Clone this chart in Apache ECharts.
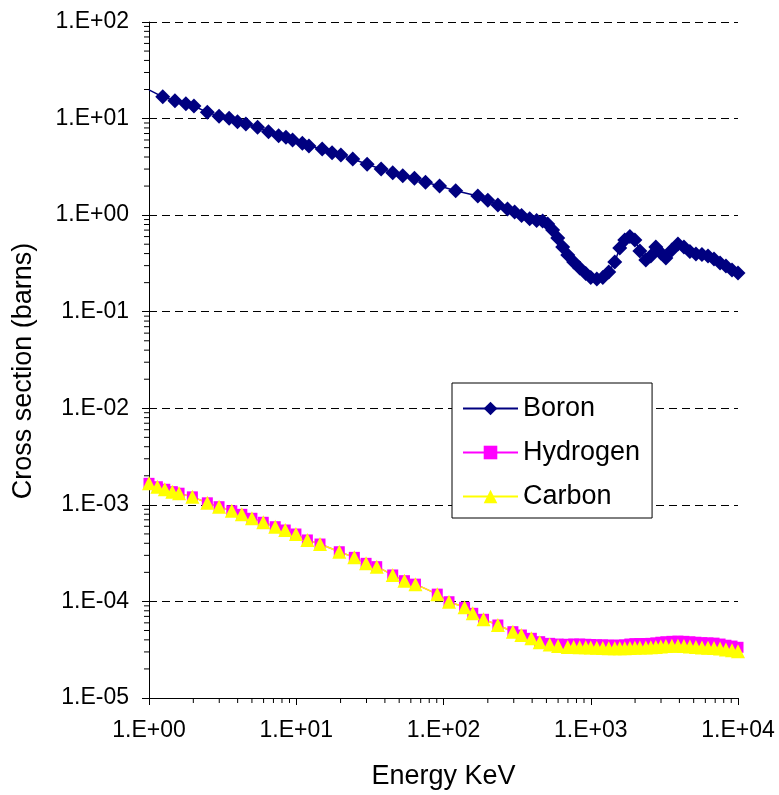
<!doctype html>
<html lang="en">
<head>
    <meta charset="UTF-8">
    <script src="https://cdn.jsdelivr.net/npm/echarts@6/dist/echarts.min.js"></script>
    <title>Cross section</title>
    <style>
        html, body { margin: 0; padding: 0; background: #fff; }
    </style>
</head>
<body>
<div id="main" style="width: 779px;height:795px;"></div>
<script type="text/javascript">
    // tick labels
    var xTickLabels = ['1.E+00', '1.E+01', '1.E+02', '1.E+03', '1.E+04'];
    var yTickLabels = ['1.E-05', '1.E-04', '1.E-03', '1.E-02', '1.E-01', '1.E+00', '1.E+01', '1.E+02'];
    var minorSteps = [2, 3, 4, 5, 6, 7, 8, 9];

    // Boron (energy keV / cross section barns)
    var boronEnergy = [1, 1.24, 1.50, 1.78, 2.02, 2.49, 2.99, 3.50, 3.99, 4.55, 5.46, 6.48, 7.59, 8.51, 9.44,
        11.0, 12.2, 15.0, 17.5, 20.1, 24.2, 30.3, 37.7, 45.2, 52.9, 63.5, 75.5, 94.0, 121, 171,
        200, 234, 272, 304, 339, 385, 429, 471, 510, 551, 597, 645, 698, 766, 841,
        925, 1000, 1099, 1208, 1325, 1456, 1574, 1702, 1843, 1993, 2155, 2366, 2558, 2767, 2992,
        3236, 3556, 3908, 4295, 4714, 5180, 5692, 6255, 6874, 7553, 8282, 9105, 10000];
    var boronSigma = [19.8, 16.8, 15.3, 14.2, 13.5, 11.6, 10.6, 10.1, 9.29, 8.79, 8.13, 7.31, 6.65, 6.40, 6.00,
        5.55, 5.20, 4.84, 4.43, 4.20, 3.81, 3.36, 3.00, 2.75, 2.56, 2.41, 2.19, 2.00, 1.79, 1.58,
        1.43, 1.27, 1.16, 1.08, 0.99, 0.92, 0.88, 0.87, 0.81, 0.70, 0.58, 0.468, 0.386, 0.327, 0.284,
        0.249, 0.226, 0.218, 0.226, 0.258, 0.327, 0.457, 0.553, 0.601, 0.553, 0.426, 0.343, 0.378, 0.468, 0.406,
        0.360, 0.435, 0.502, 0.468, 0.421, 0.396, 0.392, 0.378, 0.352, 0.319, 0.297, 0.270, 0.252];

    // Hydrogen and Carbon share the same energies
    var lightEnergy = [1, 1.14, 1.28, 1.44, 1.60, 1.97, 2.49, 2.99, 3.65, 4.27, 5.00, 5.97, 7.20, 8.42, 9.95,
        11.9, 14.5, 19.6, 24.8, 29.8, 35.2, 45.2, 54.3, 64.5, 90.7, 109, 139, 158, 187, 234,
        296, 338, 395, 450, 526, 600,
        698, 766, 841, 925, 1000, 1099, 1208, 1325, 1456, 1574, 1702, 1843, 1993, 2155, 2366,
        2558, 2767, 2992, 3236, 3556, 3908, 4295, 4714, 5180, 5692, 6255, 6874, 7553, 8282, 9105, 10000];
    var hydrogenSigma = [1.67e-3, 1.54e-3, 1.45e-3, 1.37e-3, 1.32e-3, 1.21e-3, 1.05e-3, 9.57e-4, 8.69e-4, 7.98e-4,
        7.26e-4, 6.60e-4, 5.94e-4, 5.49e-4, 4.99e-4, 4.33e-4, 3.93e-4, 3.27e-4, 2.86e-4, 2.48e-4,
        2.29e-4, 1.88e-4, 1.64e-4, 1.51e-4, 1.19e-4, 9.93e-5, 8.69e-5, 7.53e-5, 6.53e-5, 5.70e-5,
        4.86e-5, 4.49e-5, 4.15e-5, 3.83e-5, 3.68e-5, 3.62e-5,
        3.60e-5, 3.62e-5, 3.62e-5, 3.60e-5, 3.58e-5, 3.56e-5, 3.55e-5, 3.53e-5, 3.52e-5, 3.52e-5,
        3.55e-5, 3.62e-5, 3.65e-5, 3.66e-5, 3.66e-5, 3.68e-5, 3.72e-5, 3.78e-5, 3.82e-5, 3.86e-5,
        3.88e-5, 3.86e-5, 3.82e-5, 3.78e-5, 3.74e-5, 3.72e-5, 3.70e-5, 3.62e-5, 3.52e-5, 3.45e-5, 3.35e-5];
    var carbonSigma = [1.67e-3, 1.54e-3, 1.45e-3, 1.37e-3, 1.32e-3, 1.21e-3, 1.05e-3, 9.57e-4, 8.69e-4, 7.98e-4,
        7.26e-4, 6.60e-4, 5.94e-4, 5.49e-4, 4.99e-4, 4.33e-4, 3.93e-4, 3.27e-4, 2.86e-4, 2.48e-4,
        2.29e-4, 1.88e-4, 1.64e-4, 1.51e-4, 1.19e-4, 9.93e-5, 8.69e-5, 7.53e-5, 6.53e-5, 5.70e-5,
        4.86e-5, 4.49e-5, 4.15e-5, 3.78e-5, 3.58e-5, 3.45e-5,
        3.38e-5, 3.38e-5, 3.36e-5, 3.35e-5, 3.34e-5, 3.32e-5, 3.30e-5, 3.28e-5, 3.27e-5, 3.27e-5,
        3.28e-5, 3.30e-5, 3.32e-5, 3.33e-5, 3.33e-5, 3.35e-5, 3.38e-5, 3.42e-5, 3.45e-5, 3.47e-5,
        3.47e-5, 3.45e-5, 3.42e-5, 3.38e-5, 3.34e-5, 3.32e-5, 3.30e-5, 3.25e-5, 3.18e-5, 3.12e-5, 3.05e-5];

    var font = '"Liberation Sans", Arial, sans-serif';
    var xMin = 1, xMax = 10000, yMin = 1e-5, yMax = 100;

    function pairs(xs, ys) {
        return xs.map(function (x, i) { return [x, ys[i]]; });
    }

    // boron line starts at the axis without a marker
    var boronData = pairs(boronEnergy, boronSigma);
    boronData[0] = { value: boronData[0], symbol: 'none' };

    // minor tick positions (2..9 within each decade)
    var yMinor = [], xMinor = [];
    for (var d = 0; d < yTickLabels.length - 1; d++) {
        minorSteps.forEach(function (m) { yMinor.push([xMin, m * yMin * Math.pow(10, d)]); });
    }
    for (var d2 = 0; d2 < xTickLabels.length - 1; d2++) {
        minorSteps.forEach(function (m) { xMinor.push([m * xMin * Math.pow(10, d2), yMin]); });
    }

    function expLabel(labels, base) {
        return function (v) {
            var k = Math.round(Math.log10(v)) - base;
            return labels[k] || '';
        };
    }

    var myChart = echarts.init(document.getElementById('main'));

    var option = {
        animation: false,
        backgroundColor: '#fff',
        textStyle: { fontFamily: font, color: '#000' },
        grid: { left: 149, right: 41, top: 22, bottom: 97 },
        legend: {
            orient: 'vertical',
            left: 452,
            top: 383,
            data: ['Boron', 'Hydrogen', 'Carbon'],
            backgroundColor: '#fff',
            borderColor: '#000',
            borderWidth: 1,
            borderRadius: 0,
            padding: [12, 12, 8, 10],
            itemWidth: 55,
            itemHeight: 17,
            itemGap: 17,
            textStyle: { fontFamily: font, fontSize: 27, lineHeight: 27, color: '#000' }
        },
        xAxis: {
            type: 'log',
            logBase: 10,
            min: xMin,
            max: xMax,
            splitNumber: 4,
            name: 'Energy KeV',
            nameLocation: 'middle',
            nameGap: 65,
            nameTextStyle: { fontFamily: font, fontSize: 27, color: '#000' },
            axisLine: { lineStyle: { color: '#000', width: 1 } },
            axisTick: { show: true, length: 7, lineStyle: { color: '#000' } },
            axisLabel: { fontFamily: font, fontSize: 23, color: '#000', margin: 21, formatter: expLabel(xTickLabels, 0) },
            splitLine: { show: false }
        },
        yAxis: {
            type: 'log',
            logBase: 10,
            min: yMin,
            max: yMax,
            splitNumber: 7,
            name: 'Cross section (barns)',
            nameLocation: 'middle',
            nameGap: 112,
            nameTextStyle: { fontFamily: font, fontSize: 27, color: '#000', padding: [0, 22, 0, 0] },
            axisLine: { lineStyle: { color: '#000', width: 1 } },
            axisTick: { show: true, length: 7, lineStyle: { color: '#000' } },
            axisLabel: { fontFamily: font, fontSize: 23, color: '#000', margin: 20, formatter: expLabel(yTickLabels, -5) },
            splitLine: { show: true, lineStyle: { color: '#000', width: 1, type: [8, 5] } }
        },
        series: [
            {
                name: 'Boron',
                type: 'line',
                data: boronData,
                symbol: 'diamond',
                symbolSize: 15,
                lineStyle: { color: '#000080', width: 1.5 },
                itemStyle: { color: '#000080' },
                z: 3
            },
            {
                name: 'Hydrogen',
                type: 'line',
                data: pairs(lightEnergy, hydrogenSigma),
                symbol: 'rect',
                symbolSize: 11,
                lineStyle: { color: '#ff00ff', width: 1.5 },
                itemStyle: { color: '#ff00ff' },
                z: 3
            },
            {
                name: 'Carbon',
                type: 'line',
                data: pairs(lightEnergy, carbonSigma),
                symbol: 'triangle',
                symbolSize: 14,
                lineStyle: { color: '#ffff00', width: 1.5 },
                itemStyle: { color: '#ffff00' },
                z: 3
            },
            {
                name: 'yMinorTicks',
                type: 'custom',
                silent: true,
                clip: false,
                data: yMinor,
                renderItem: function (params, api) {
                    var p = api.coord([api.value(0), api.value(1)]);
                    return { type: 'line', shape: { x1: p[0] - 5, y1: p[1], x2: p[0], y2: p[1] }, style: { stroke: '#000', lineWidth: 1 } };
                }
            },
            {
                name: 'xMinorTicks',
                type: 'custom',
                silent: true,
                clip: false,
                data: xMinor,
                renderItem: function (params, api) {
                    var p = api.coord([api.value(0), api.value(1)]);
                    return { type: 'line', shape: { x1: p[0], y1: p[1], x2: p[0], y2: p[1] + 5 }, style: { stroke: '#000', lineWidth: 1 } };
                }
            }
        ]
    };

    myChart.setOption(option);
</script>
</body>
</html>
